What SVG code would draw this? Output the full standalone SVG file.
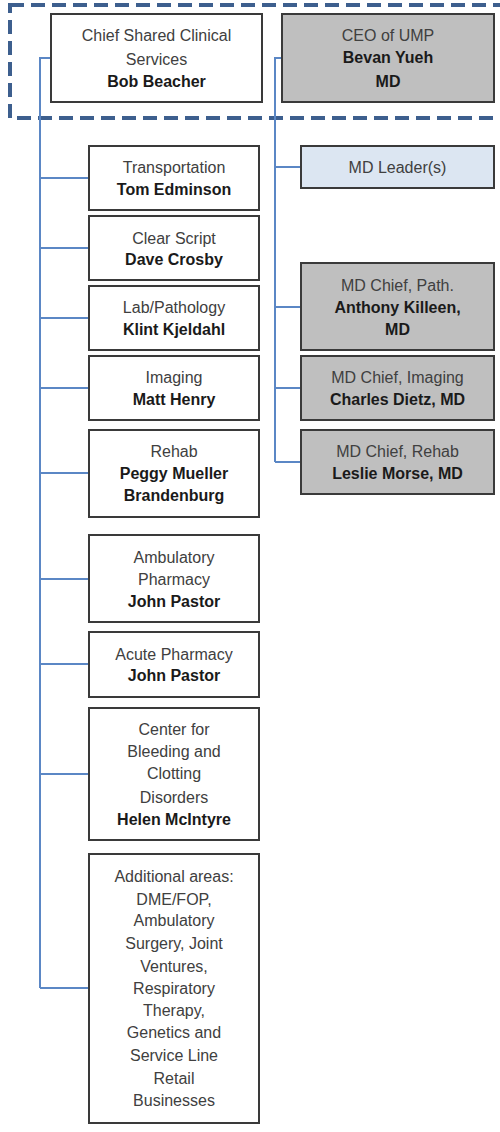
<svg xmlns="http://www.w3.org/2000/svg" width="500" height="1132" viewBox="0 0 500 1132">
  <style>
    .box { fill: #ffffff; stroke: #3a3a3a; stroke-width: 2; }
    .gray { fill: #bfbfbf; }
    .light { fill: #dce6f2; }
    .link { fill: none; stroke: #5b87c5; stroke-width: 2; }
    text { font-family: "Liberation Sans", Arial, sans-serif; font-size: 16px; text-anchor: middle; fill: #404040; }
    .b { font-weight: bold; fill: #1a1a1a; }
  </style>
  <rect width="500" height="1132" fill="#ffffff"/>

  <!-- executive group outline -->
  <rect x="10" y="5" width="500" height="113" fill="none" stroke="#3d5f8e" stroke-width="4" stroke-dasharray="14 7"/>

  <!-- connectors -->
  <g id="connectors">
    <path class="link" d="M51 58 H40 V988"/>
    <path class="link" d="M40 178 H89 M40 248 H89 M40 318 H89 M40 388 H89 M40 473 H89 M40 579 H89 M40 664 H89 M40 774 H89 M40 988 H89"/>
    <path class="link" d="M282 58 H275 V462"/>
    <path class="link" d="M275 167 H301 M275 307 H301 M275 388 H301 M275 462 H301"/>
  </g>

  <g id="chief-shared">
    <rect class="box" x="51" y="14" width="211" height="88"/>
    <text x="156.5" y="41">Chief Shared Clinical</text>
    <text x="156.5" y="65">Services</text>
    <text class="b" x="156.5" y="87">Bob Beacher</text>
  </g>

  <g id="ceo">
    <rect class="box gray" x="282" y="14" width="212" height="88"/>
    <text x="388" y="41">CEO of UMP</text>
    <text class="b" x="388" y="63">Bevan Yueh</text>
    <text class="b" x="388" y="87">MD</text>
  </g>

  <g id="transportation">
    <rect class="box" x="89" y="146" width="170" height="64"/>
    <text x="174" y="173">Transportation</text>
    <text class="b" x="174" y="195">Tom Edminson</text>
  </g>

  <g id="clear-script">
    <rect class="box" x="89" y="216" width="170" height="64"/>
    <text x="174" y="244">Clear Script</text>
    <text class="b" x="174" y="265">Dave Crosby</text>
  </g>

  <g id="lab-pathology">
    <rect class="box" x="89" y="286" width="170" height="64"/>
    <text x="174" y="313">Lab/Pathology</text>
    <text class="b" x="174" y="335">Klint Kjeldahl</text>
  </g>

  <g id="imaging">
    <rect class="box" x="89" y="356" width="170" height="64"/>
    <text x="174" y="383">Imaging</text>
    <text class="b" x="174" y="405">Matt Henry</text>
  </g>

  <g id="rehab">
    <rect class="box" x="89" y="430" width="170" height="87"/>
    <text x="174" y="457">Rehab</text>
    <text class="b" x="174" y="479">Peggy Mueller</text>
    <text class="b" x="174" y="501">Brandenburg</text>
  </g>

  <g id="ambulatory-pharmacy">
    <rect class="box" x="89" y="535" width="170" height="87"/>
    <text x="174" y="563">Ambulatory</text>
    <text x="174" y="585">Pharmacy</text>
    <text class="b" x="174" y="607">John Pastor</text>
  </g>

  <g id="acute-pharmacy">
    <rect class="box" x="89" y="632" width="170" height="65"/>
    <text x="174" y="660">Acute Pharmacy</text>
    <text class="b" x="174" y="681">John Pastor</text>
  </g>

  <g id="bleeding-clotting">
    <rect class="box" x="89" y="708" width="170" height="132"/>
    <text x="174" y="735">Center for</text>
    <text x="174" y="757">Bleeding and</text>
    <text x="174" y="779">Clotting</text>
    <text x="174" y="803">Disorders</text>
    <text class="b" x="174" y="825">Helen McIntyre</text>
  </g>

  <g id="additional-areas">
    <rect class="box" x="89" y="854" width="170" height="269"/>
    <text x="174" y="882">Additional areas:</text>
    <text x="174" y="905">DME/FOP,</text>
    <text x="174" y="926">Ambulatory</text>
    <text x="174" y="949">Surgery, Joint</text>
    <text x="174" y="972">Ventures,</text>
    <text x="174" y="994">Respiratory</text>
    <text x="174" y="1016">Therapy,</text>
    <text x="174" y="1038">Genetics and</text>
    <text x="174" y="1061">Service Line</text>
    <text x="174" y="1084">Retail</text>
    <text x="174" y="1106">Businesses</text>
  </g>

  <g id="md-leaders">
    <rect class="box light" x="301" y="146" width="193" height="42"/>
    <text x="397.5" y="173">MD Leader(s)</text>
  </g>

  <g id="md-chief-path">
    <rect class="box gray" x="301" y="263" width="193" height="87"/>
    <text x="397.5" y="291">MD Chief, Path.</text>
    <text class="b" x="397.5" y="313">Anthony Killeen,</text>
    <text class="b" x="397.5" y="335">MD</text>
  </g>

  <g id="md-chief-imaging">
    <rect class="box gray" x="301" y="356" width="193" height="64"/>
    <text x="397.5" y="383">MD Chief, Imaging</text>
    <text class="b" x="397.5" y="405">Charles Dietz, MD</text>
  </g>

  <g id="md-chief-rehab">
    <rect class="box gray" x="301" y="430" width="193" height="64"/>
    <text x="397.5" y="457">MD Chief, Rehab</text>
    <text class="b" x="397.5" y="479">Leslie Morse, MD</text>
  </g>
</svg>
